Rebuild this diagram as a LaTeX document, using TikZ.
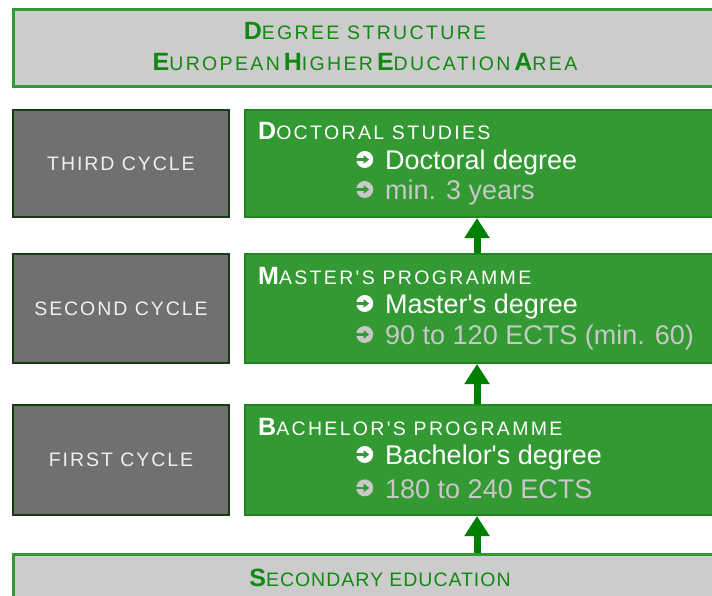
\documentclass[tikz,border=0pt]{standalone}
\usepackage{fontspec}
\setmainfont{Liberation Sans}
\newfontfamily\spc[LetterSpace=12]{Liberation Sans}
\newfontfamily\spcb[LetterSpace=5]{Liberation Sans}
\newfontfamily\lbl[LetterSpace=10]{Liberation Sans}
\usetikzlibrary{arrows.meta}
\definecolor{boxgreen}{RGB}{51,153,51}
\definecolor{boxedge}{RGB}{30,135,30}
\definecolor{hdrfill}{RGB}{204,204,204}
\definecolor{hdrtext}{RGB}{17,136,17}
\definecolor{cyclefill}{RGB}{112,112,112}
\definecolor{cycleedge}{RGB}{22,60,22}
\definecolor{cycletext}{RGB}{240,240,240}
\definecolor{faint}{RGB}{200,200,200}
\definecolor{arrgreen}{RGB}{0,128,0}
\newcommand\initcaps[2]{{\fontsize{25}{25}\selectfont\bfseries #1}{\fontsize{19.5}{19.5}\selectfont #2}}
\newcommand\pointer{\tikz[x=1pt,y=1pt,baseline=0pt]{%
  \fill[draw=none] (9,10.5) circle[radius=8.5pt];
  \fill[boxgreen] (-0.5,9.2) rectangle (9,11.8);
  \fill[boxgreen] (8,6.3) -- (13.5,10.5) -- (8,14.7) -- cycle;}\hspace{12pt}}
\tikzset{
  hdr/.style={draw=boxgreen, line width=3pt, fill=hdrfill, inner sep=0pt},
  hdrtxt/.style={text=hdrtext, inner sep=0pt, font=\spc},
  cyclebox/.style={draw=cycleedge, line width=2pt, fill=cyclefill, inner sep=0pt,
    minimum width=216pt, text=cycletext, font=\lbl\fontsize{19.5}{19.5}\selectfont},
  levelbox/.style={draw=boxedge, line width=2pt, fill=boxgreen, inner sep=0pt,
    minimum width=485pt},
  titletxt/.style={anchor=west, inner sep=0pt, text=white, font=\spc},
  degtxt/.style={anchor=west, inner sep=0pt, text=white, font=\fontsize{27}{27}\selectfont},
  infotxt/.style={anchor=west, inner sep=0pt, text=faint, font=\fontsize{27}{27}\selectfont},
  uparrow/.style={draw=arrgreen, line width=7pt, -{Triangle[width=24pt,length=20pt]}}
}
\begin{document}
\begin{tikzpicture}[x=1pt,y=-1pt]
\useasboundingbox (0,0) rectangle (712,596);
\clip (0,0) rectangle (712,596);
\fill[white] (0,0) rectangle (712,596);

% header
\node[hdr, minimum width=717pt, minimum height=77pt] (head) at (371.5,48.5) {};
\node[hdrtxt] (head1) at (365,31) {\initcaps{D}{EGREE STRUCTURE}};
\node[hdrtxt] (head2) at (365,62) {\initcaps{E}{UROPEAN} \initcaps{H}{IGHER} \initcaps{E}{DUCATION} \initcaps{A}{REA}};

% cycles
\node[cyclebox, minimum height=107pt] (third) at (121,163.5) {THIRD CYCLE};
\node[cyclebox, minimum height=109pt] (second) at (121,308.5) {SECOND CYCLE};
\node[cyclebox, minimum height=110pt] (first) at (121,460) {FIRST CYCLE};

% levels
\node[levelbox, minimum height=107pt] (doc) at (487.5,163.5) {};
\node[levelbox, minimum height=109pt] (mas) at (487.5,308.5) {};
\node[levelbox, minimum height=110pt] (bac) at (487.5,460) {};

\node[titletxt] (doct) at (258,131) {\initcaps{D}{OCTORAL STUDIES}};
\node[degtxt] (docd) at (355,163) {\pointer Doctoral degree};
\node[infotxt] (doci) at (355,193) {\pointer min. 3 years};

\node[titletxt] (mast) at (258,276) {\initcaps{M}{ASTER'S PROGRAMME}};
\node[degtxt] (masd) at (355,307) {\pointer Master\textquotesingle s degree};
\node[infotxt] (masi) at (355,338) {\pointer 90 to 120 ECTS (min. 60)};

\node[titletxt] (bact) at (258,427) {\initcaps{B}{ACHELOR'S PROGRAMME}};
\node[degtxt] (bacd) at (355,458) {\pointer Bachelor\textquotesingle s degree};
\node[infotxt] (baci) at (355,489) {\pointer 180 to 240 ECTS};

% secondary
\node[hdr, minimum width=717pt, minimum height=86pt] (sec) at (371.5,597) {};
\node[hdrtxt, font=\spcb] (sect) at (380,578) {\initcaps{S}{ECONDARY EDUCATION}};

% arrows
\coordinate (ax) at (477,0);
\draw[uparrow] (sec.north -| ax) -- (bac.south -| ax);
\draw[uparrow] (bac.north -| ax) -- (mas.south -| ax);
\draw[uparrow] (mas.north -| ax) -- (doc.south -| ax);
\end{tikzpicture}
\end{document}
